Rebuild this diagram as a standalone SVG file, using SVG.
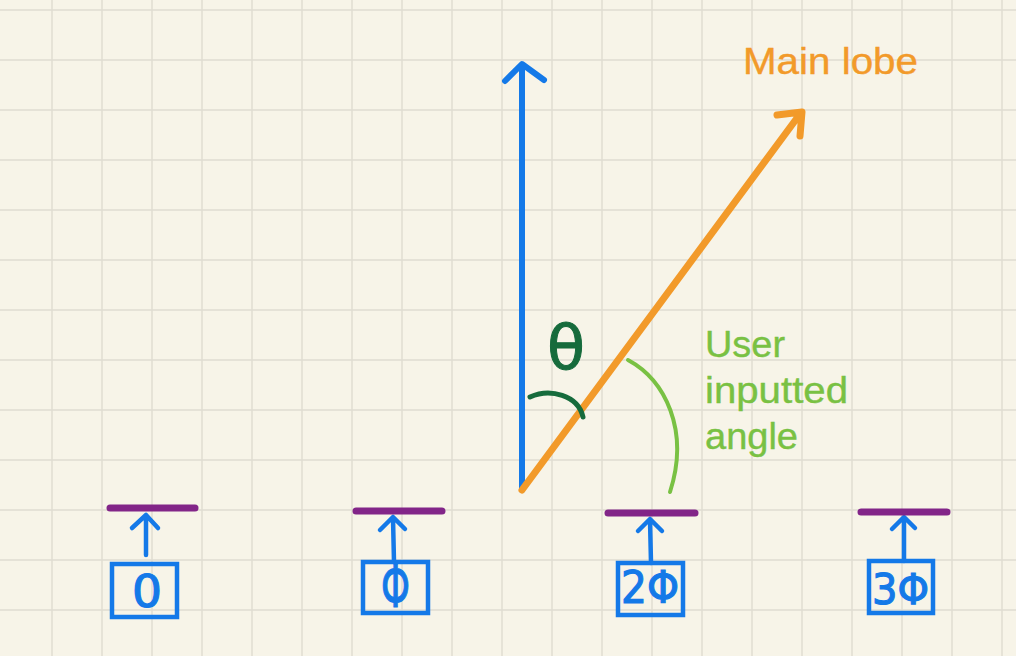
<svg xmlns="http://www.w3.org/2000/svg" width="1016" height="656" viewBox="0 0 1016 656">
<defs>
<style>
.grid{stroke:#dfdcd1;stroke-width:1.4;fill:none}
.blue{stroke:#1479e8;fill:none;stroke-linecap:round;stroke-linejoin:round}
.bar{stroke:#822588;stroke-width:7;stroke-linecap:round}
.box{stroke:#1479e8;stroke-width:4.5;fill:none}
.hand{font-family:"DejaVu Sans",sans-serif;fill:#1479e8;stroke:#1479e8;stroke-width:1.2}
.lbl{font-family:"Liberation Sans",Arial,sans-serif}
</style>
</defs>
<rect width="1016" height="656" fill="#f7f4e8"/>
<path class="grid" d="M52 0V656M102 0V656M152 0V656M202 0V656M252 0V656M302 0V656M352 0V656M402 0V656M452 0V656M502 0V656M552 0V656M602 0V656M652 0V656M702 0V656M752 0V656M802 0V656M852 0V656M902 0V656M952 0V656M1002 0V656M0 10H1016M0 60H1016M0 110H1016M0 160H1016M0 210H1016M0 260H1016M0 310H1016M0 360H1016M0 410H1016M0 460H1016M0 510H1016M0 560H1016M0 610H1016"/>
<g id="connectors">
<path class="blue" stroke-width="6" d="M522 490V65M505 81L522 64L544 80"/>
<path stroke="#f29a2a" stroke-width="7" fill="none" stroke-linecap="round" stroke-linejoin="round" d="M522 490L800 114M777 115L802 112L800 136"/>
<path stroke="#79c143" stroke-width="4" fill="none" stroke-linecap="round" d="M628 360C665 380 690 430 670 492"/>
<path stroke="#166b3c" stroke-width="5" fill="none" stroke-linecap="round" d="M530 397C550 388 578 395 583 417"/>
<path class="blue" stroke-width="4.5" d="M146 555V515M132 528L146 515L158 528"/>
<path class="blue" stroke-width="4.5" d="M394 562L393 518M380 530L393 517L405 529"/>
<path class="blue" stroke-width="4.5" d="M651 563L650 520M638 531L650 519L662 531"/>
<path class="blue" stroke-width="4.5" d="M904 561V518M892 529L904 517L915 528"/>
</g>
<g id="label-main-lobe"><text class="lbl" x="743" y="74" font-size="36" fill="#f29a2a" stroke="#f29a2a" stroke-width="0.4" textLength="175" lengthAdjust="spacingAndGlyphs">Main lobe</text></g>
<g id="label-user-angle" class="lbl" fill="#79c143" stroke="#79c143" stroke-width="0.4" font-size="37">
<text x="705" y="357" textLength="80" lengthAdjust="spacingAndGlyphs">User</text>
<text x="705" y="403" textLength="143" lengthAdjust="spacingAndGlyphs">inputted</text>
<text x="705" y="449" textLength="93" lengthAdjust="spacingAndGlyphs">angle</text>
</g>
<g id="label-theta"><text x="547" y="369" font-family="DejaVu Sans,sans-serif" font-size="62" fill="#166b3c" stroke="#166b3c" stroke-width="1" textLength="38" lengthAdjust="spacingAndGlyphs">θ</text></g>
<g id="element-0">
<line class="bar" x1="110" y1="508" x2="195" y2="508"/>
<rect class="box" x="112" y="564" width="65" height="53"/>
<text class="hand" x="132" y="607" font-size="44" textLength="30" lengthAdjust="spacingAndGlyphs">0</text>
</g>
<g id="element-1">
<line class="bar" x1="356" y1="511" x2="442" y2="511"/>
<rect class="box" x="363" y="562" width="65" height="51"/>
<text class="hand" x="381" y="607" font-size="58" textLength="29" lengthAdjust="spacingAndGlyphs">Φ</text>
</g>
<g id="element-2">
<line class="bar" x1="608" y1="513" x2="695" y2="513"/>
<rect class="box" x="618" y="563" width="65" height="52"/>
<text class="hand" x="621" y="603" font-size="44" textLength="58" lengthAdjust="spacingAndGlyphs">2Φ</text>
</g>
<g id="element-3">
<line class="bar" x1="861" y1="512" x2="947" y2="512"/>
<rect class="box" x="869" y="561" width="64" height="52"/>
<text class="hand" x="872" y="604" font-size="42" textLength="57" lengthAdjust="spacingAndGlyphs">3Φ</text>
</g>
</svg>
